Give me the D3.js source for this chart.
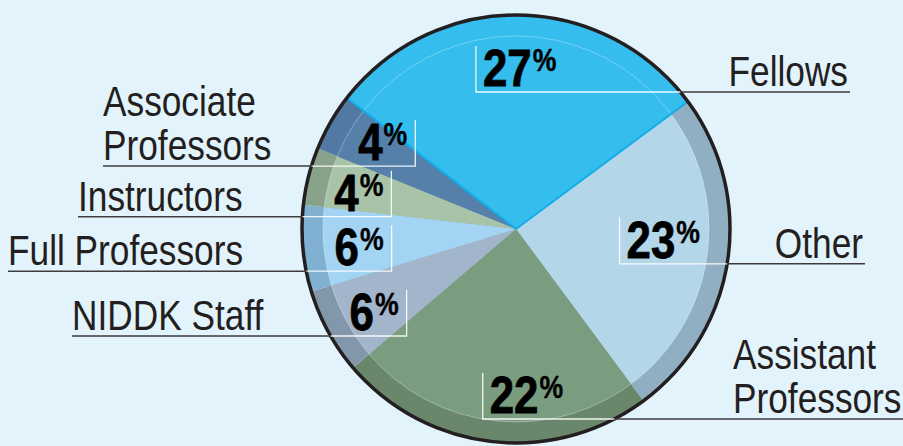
<!DOCTYPE html>
<html>
<head>
<meta charset="utf-8">
<script src="https://cdn.jsdelivr.net/npm/d3@7"></script>
<style>
  html, body { margin: 0; padding: 0; background: #e3f3fc; }
  svg { display: block; }
</style>
</head>
<body>
<svg id="chart"></svg>
<script>
// data, clockwise from the top slice
const categories = ["Fellows", "Other", "Assistant Professors", "NIDDK Staff", "Full Professors", "Instructors", "Associate Professors"];
const percents = [27, 23, 22, 6, 6, 4, 4];

const fillColors = ["#35bdee", "#b3d6e9", "#7b9d7f", "#a2b5cb", "#a4d4f3", "#a8c3a8", "#5580aa"];
const ringColors = ["#35bdee", "#91afc2", "#6a876b", "#8397ab", "#80b1d3", "#88a38a", "#5179a3"];

// hand placed callouts, like in the print original
const labelLayout = {
    "Fellows":              { side: "right", x: 848, anchor: "end",   lines: ["Fellows"],                 nudge: [2, -6] },
    "Other":                { side: "right", x: 863, anchor: "end",   lines: ["Other"],                   nudge: [-6, -12] },
    "Assistant Professors": { side: "right", x: 733, anchor: "start", lines: ["Assistant", "Professors"], nudge: [28, 12] },
    "NIDDK Staff":          { side: "left",  x: 72,  anchor: "start", lines: ["NIDDK Staff"],             nudge: [-6, 8.5] },
    "Full Professors":      { side: "left",  x: 8,   anchor: "start", lines: ["Full Professors"],         nudge: [-2.6, 4] },
    "Instructors":          { side: "left",  x: 78,  anchor: "start", lines: ["Instructors"],             nudge: [-7, 2] },
    "Associate Professors": { side: "left",  x: 103, anchor: "start", lines: ["Associate", "Professors"], nudge: [1, -9.5] }
};

const width = 903, height = 446;
const cx = 516, cy = 229;
const R = 214, rInner = 193, rLabel = 155;
const start = -52.2 * Math.PI / 180;
// no condensed face installed, so squeeze a regular one
const font = "'Liberation Sans', Arial, sans-serif";
const nameSqueeze = 0.82, pctSqueeze = 0.86;
const ink = "#231f20";

const data = categories.map((c, i) => ({ name: c, value: percents[i], fill: fillColors[i], ring: ringColors[i] }));

const svg = d3.select("#chart")
    .attr("width", width)
    .attr("height", height)
    .attr("viewBox", [0, 0, width, height]);

svg.append("rect").attr("width", width).attr("height", height).attr("fill", "#e3f3fc");

const pie = d3.pie().sort(null).value(d => d.value).startAngle(start).endAngle(start + 2 * Math.PI);
const arcs = pie(data);

const outerArc = d3.arc().innerRadius(0).outerRadius(R);
const innerArc = d3.arc().innerRadius(0).outerRadius(rInner);
const labelArc = d3.arc().innerRadius(rLabel).outerRadius(rLabel);

const pieG = svg.append("g").attr("transform", `translate(${cx},${cy})`);

pieG.selectAll("path.ring")
    .data(arcs)
    .join("path")
    .attr("class", "ring")
    .attr("fill", d => d.data.ring)
    .attr("d", outerArc);

pieG.selectAll("path.slice")
    .data(arcs)
    .join("path")
    .attr("class", "slice")
    .attr("fill", d => d.data.fill)
    .attr("d", innerArc);

// faint highlight circle at the bevel edge
pieG.append("circle")
    .attr("r", rInner)
    .attr("fill", "none")
    .attr("stroke", "#fff")
    .attr("stroke-opacity", 0.3)
    .attr("stroke-width", 1);

// bright edges on the Fellows slice
const fel = arcs[0];
pieG.selectAll("line.edge")
    .data([fel.startAngle, fel.endAngle])
    .join("line")
    .attr("class", "edge")
    .attr("x1", 0).attr("y1", 0)
    .attr("x2", a => d3.pointRadial(a, R)[0])
    .attr("y2", a => d3.pointRadial(a, R)[1])
    .attr("stroke", "#12ade8")
    .attr("stroke-width", 2);

pieG.append("circle")
    .attr("r", R)
    .attr("fill", "none")
    .attr("stroke", ink)
    .attr("stroke-width", 3.5);

// callouts
const edgeX = (y, side) => {
    const dy = y - cy;
    const h = Math.sqrt(Math.max(0, R * R - dy * dy));
    return side === "right" ? cx + h : cx - h;
};

const whiteG = svg.append("g");
const pctG = svg.append("g");
const darkG = svg.append("g");
const nameG = svg.append("g");

arcs.forEach(a => {
    const lay = labelLayout[a.data.name];
    const [lx, ly] = labelArc.centroid(a);
    const mx = cx + lx + lay.nudge[0];
    const baseline = cy + ly + lay.nudge[1] + 18;

    const num = pctG.append("text")
        .attr("font-family", font)
        .attr("font-weight", 700)
        .attr("font-size", 51)
        .attr("fill", "#000")
        .attr("stroke", "#000")
        .attr("stroke-width", 0.8)
        .text(a.data.value);
    const pct = pctG.append("text")
        .attr("font-family", font)
        .attr("font-weight", 700)
        .attr("font-size", 31)
        .attr("fill", "#000")
        .attr("stroke", "#000")
        .attr("stroke-width", 0.4)
        .text("%");
    const wNum = num.node().getComputedTextLength() * pctSqueeze;
    const wPct = pct.node().getComputedTextLength() * pctSqueeze;
    const total = wNum + 1 + wPct;
    const left = mx - total / 2;
    num.attr("transform", `translate(${left},${baseline}) scale(${pctSqueeze},1)`);
    pct.attr("transform", `translate(${left + wNum + 1},${baseline - 15}) scale(${pctSqueeze},1)`);

    const lineY = baseline + 6;
    const vx = lay.side === "right" ? left - 7 : left + total + 8;
    const ex = edgeX(lineY, lay.side);

    whiteG.append("path")
        .attr("d", d3.line()([[vx, baseline - 40], [vx, lineY], [ex, lineY]]))
        .attr("fill", "none")
        .attr("stroke", "#fff")
        .attr("stroke-opacity", 0.9)
        .attr("stroke-width", 1.3);

    const name = nameG.append("text")
        .attr("transform", `translate(${lay.x},0) scale(${nameSqueeze},1)`)
        .attr("font-family", font)
        .attr("font-size", 43)
        .attr("fill", ink)
        .attr("text-anchor", lay.anchor);
    lay.lines.forEach((t, i) => {
        name.append("tspan")
            .attr("x", 0)
            .attr("y", baseline - (lay.lines.length - 1 - i) * 44)
            .text(t);
    });
    const bb = name.node().getBBox();
    const outer = lay.side === "right"
        ? lay.x + (bb.x + bb.width) * nameSqueeze + 2
        : lay.x + bb.x * nameSqueeze;

    darkG.append("line")
        .attr("x1", ex).attr("x2", outer)
        .attr("y1", lineY).attr("y2", lineY)
        .attr("stroke", "#3d3b3c")
        .attr("stroke-width", 1.5);
});
</script>
</body>
</html>
